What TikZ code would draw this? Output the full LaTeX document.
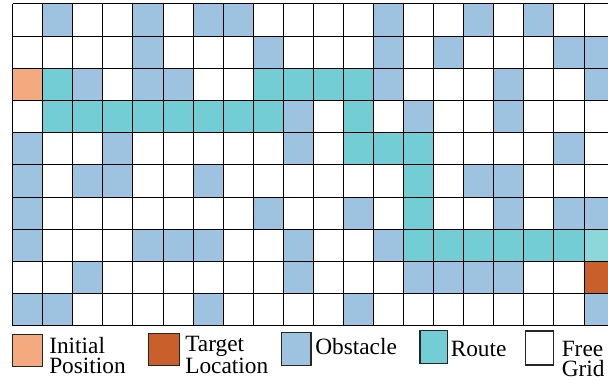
\documentclass[tikz,border=0pt]{standalone}
\usepackage{fontspec}
\setmainfont{Liberation Serif}
\definecolor{obscol}{RGB}{158,195,224}
\definecolor{routecol}{RGB}{114,205,212}
\definecolor{routelight}{RGB}{141,214,218}
\definecolor{initcol}{RGB}{244,170,126}
\definecolor{targetcol}{RGB}{201,96,44}
\tikzset{
  gridline/.style={black, line width=0.75pt},
  legbox/.style={draw=black!85, line width=0.9pt, minimum width=23pt, minimum height=24.4pt, inner sep=0pt},
  legtext/.style={inner sep=0pt, align=left, font=\fontsize{17.5}{15}\selectfont}
}
\begin{document}
\begin{tikzpicture}[x=0.75pt,y=-0.75pt]
\useasboundingbox (0,0) rectangle (608,381);
\fill[white] (0,0) rectangle (608,381);
\def\gcw{30.07}
\def\gch{32.17}
\def\gxo{12.7}
\def\gyo{4}
\begin{scope}
\clip (0,0) rectangle (608,381);
% obstacles
\foreach \c/\r in {1/0,4/0,6/0,7/0,12/0,15/0,17/0,
  4/1,8/1,12/1,14/1,18/1,19/1,
  2/2,4/2,5/2,12/2,16/2,19/2,
  9/3,13/3,16/3,
  0/4,3/4,9/4,18/4,
  0/5,2/5,3/5,6/5,15/5,16/5,
  0/6,8/6,11/6,16/6,18/6,19/6,
  0/7,4/7,5/7,6/7,9/7,12/7,
  2/8,9/8,13/8,14/8,15/8,16/8,
  0/9,1/9,6/9,11/9,19/9}
  \fill[obscol] ({\gxo+\c*\gcw},{\gyo+\r*\gch}) rectangle ++(\gcw,\gch);
% route
\foreach \c/\r in {1/2,8/2,9/2,10/2,11/2,
  1/3,2/3,3/3,4/3,5/3,6/3,7/3,8/3,11/3,
  11/4,12/4,13/4,13/5,13/6,
  13/7,14/7,15/7,16/7,17/7,18/7}
  \fill[routecol] ({\gxo+\c*\gcw},{\gyo+\r*\gch}) rectangle ++(\gcw,\gch);
\fill[routelight] ({\gxo+19*\gcw},{\gyo+7*\gch}) rectangle ++(\gcw,\gch);
% start and target
\fill[initcol] ({\gxo+0*\gcw},{\gyo+2*\gch}) rectangle ++(\gcw,\gch);
\fill[targetcol] ({\gxo+19*\gcw},{\gyo+8*\gch}) rectangle ++(\gcw,\gch);
% grid lines
\foreach \i in {0,...,20}
  \draw[gridline] ({\gxo+\i*\gcw},\gyo) -- ({\gxo+\i*\gcw},{\gyo+10*\gch});
\foreach \j in {0,...,10}
  \draw[gridline] (\gxo,{\gyo+\j*\gch}) -- ({\gxo+20*\gcw},{\gyo+\j*\gch});
\end{scope}
% legend
\node[legbox, fill=initcol] (bi) at (27.5,350.5) {};
\node[legtext, anchor=base west] (ti) at (49,373.5) {Initial\\Position};
\node[legbox, fill=targetcol] (bt) at (164.2,349.5) {};
\node[legtext, anchor=base west] (tt) at (185,373.5) {Target\\Location};
\node[legbox, fill=obscol, minimum width=22pt, minimum height=25pt] (bo) at (296.3,349) {};
\node[legtext, anchor=base west] (to) at (315,354.3) {Obstacle};
\node[legbox, fill=routecol, minimum width=20.8pt] (br) at (433.8,347) {};
\node[legtext, anchor=base west] (tr) at (450.5,357) {Route};
\node[legbox, fill=white, minimum width=20.5pt, minimum height=25.4pt] (bf) at (539.5,348) {};
\node[legtext, anchor=base west, font=\fontsize{17.5}{15.5}\selectfont] (tf) at (561.5,376.7) {Free\\Grid};
\end{tikzpicture}
\end{document}
